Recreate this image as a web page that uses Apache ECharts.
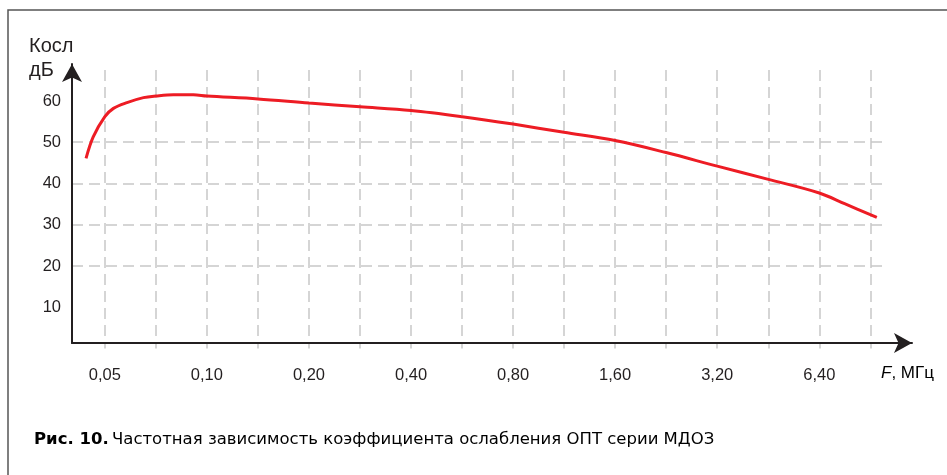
<!DOCTYPE html>
<html>
<head>
<meta charset="utf-8">
<script src="https://cdn.jsdelivr.net/npm/echarts@6/dist/echarts.min.js"></script>
<style>
html,body{margin:0;padding:0;background:#fff;}
#chart{width:947px;height:475px;}
</style>
</head>
<body>
<div id="chart"></div>
<script>
// Frequency, MHz (log scale, octave grid)
var freqMHz = [0.044, 0.0462, 0.05, 0.053, 0.0581, 0.065, 0.0708, 0.0796, 0.0912, 0.10,
               0.1414, 0.20, 0.283, 0.40, 0.566, 0.80, 1.13, 1.60, 2.26, 3.20, 4.53, 6.40, 7.6, 9.46];
// Attenuation K_osl, dB
var attenuationDb = [46.1, 51.3, 56.2, 58.2, 59.6, 60.8, 61.2, 61.5, 61.5, 61.2,
                     60.5, 59.5, 58.6, 57.7, 56.2, 54.4, 52.4, 50.4, 47.5, 44.2, 41.0, 37.7, 35.1, 31.8];
// X tick labels and their values
var xLabelValues = [0.05, 0.10, 0.20, 0.40, 0.80, 1.60, 3.20, 6.40];
var xLabels = ['0,05', '0,10', '0,20', '0,40', '0,80', '1,60', '3,20', '6,40'];
// Grid (half-octave) line positions
var xGridValues = [0.05, 0.0707, 0.10, 0.1414, 0.20, 0.2828, 0.40, 0.5657, 0.80, 1.1314,
                   1.60, 2.2627, 3.20, 4.5255, 6.40, 9.051];
// Y ticks
var yTicks = [10, 20, 30, 40, 50, 60];
var yTitle = ['Косл', 'дБ'];
var xTitle = 'F, МГц';
var captionBold = 'Рис. 10.';
var captionText = 'Частотная зависимость коэффициента ослабления ОПТ серии МДОЗ';

var seriesData = freqMHz.map(function (f, i) { return [f, attenuationDb[i]]; });

var chart = echarts.init(document.getElementById('chart'), null, {renderer: 'canvas'});
var textColor = '#231f20';
var gridLine = {show: true, lineStyle: {color: '#c8c8c8', width: 1.5, type: [11, 6]}};

chart.setOption({
  animation: false,
  backgroundColor: '#ffffff',
  grid: [
    {left: 72, right: 62, top: 70, bottom: 126.4, containLabel: false},
    {left: 72, right: 35, top: 64, bottom: 132, containLabel: false}
  ],
  xAxis: [
    {
      type: 'log', logBase: 2, gridIndex: 0, min: 0.04, max: 10,
      axisLine: {show: false},
      axisTick: {show: false, customValues: xGridValues},
      axisLabel: {
        show: true, customValues: xLabelValues, margin: 27, verticalAlign: 'middle',
        fontFamily: 'Liberation Sans', fontSize: 16.5, color: textColor,
        formatter: function (v) {
          for (var i = 0; i < xLabelValues.length; i++) {
            if (Math.abs(v - xLabelValues[i]) / xLabelValues[i] < 1e-3) return xLabels[i];
          }
          return '';
        }
      },
      splitLine: gridLine
    },
    {
      type: 'value', gridIndex: 1, min: 0, max: 1,
      axisLine: {show: true, onZero: false, symbol: ['none', 'arrow'], symbolSize: [15, 18],
                 lineStyle: {color: textColor, width: 2}},
      axisTick: {show: false}, axisLabel: {show: false}, splitLine: {show: false}
    }
  ],
  yAxis: [
    {
      type: 'value', gridIndex: 0, min: 0, max: 67.5,
      axisLine: {show: false},
      axisTick: {show: false, customValues: yTicks},
      axisLabel: {show: true, customValues: yTicks, margin: 11,
                  fontFamily: 'Liberation Sans', fontSize: 16.5, color: textColor},
      splitLine: {show: true, showMinLine: false, showMaxLine: false,
                  lineStyle: {color: '#c8c8c8', width: 1.5, type: [11, 6]}}
    },
    {
      type: 'value', gridIndex: 1, min: 0, max: 1,
      axisLine: {show: true, onZero: false, symbol: ['none', 'arrow'], symbolSize: [15, 18],
                 lineStyle: {color: textColor, width: 2}},
      axisTick: {show: false}, axisLabel: {show: false}, splitLine: {show: false}
    }
  ],
  series: [{
    type: 'line', xAxisIndex: 0, yAxisIndex: 0,
    data: seriesData, smooth: 0.35, showSymbol: false, symbol: 'none',
    lineStyle: {color: '#ed1c24', width: 3}, z: 5
  }],
  graphic: [
    {type: 'rect', shape: {x: 8, y: 10, width: 1200, height: 1000},
     style: {fill: 'none', stroke: '#555555', lineWidth: 1.5}, silent: true},
    {type: 'text', x: 29, y: 46, style: {text: yTitle[0], font: '20px "Liberation Sans"', fill: textColor, verticalAlign: 'middle'}},
    {type: 'text', x: 29, y: 70, style: {text: yTitle[1], font: '20px "Liberation Sans"', fill: textColor, verticalAlign: 'middle'}},
    {type: 'text', x: 881, y: 373, style: {
      text: '{i|F}{n|' + xTitle.slice(1) + '}', verticalAlign: 'middle',
      rich: {
        i: {fontFamily: 'Liberation Sans', fontStyle: 'italic', fontSize: 17, color: textColor},
        n: {fontFamily: 'Liberation Sans', fontSize: 17, color: textColor}
      }}},
    {type: 'text', x: 34, y: 440, style: {
      text: '{b|' + captionBold + '} {r|' + captionText + '}', verticalAlign: 'middle',
      rich: {
        b: {fontFamily: 'DejaVu Sans', fontWeight: 'bold', fontSize: 16.5, color: textColor},
        r: {fontFamily: 'DejaVu Sans', fontSize: 16.5, color: textColor}
      }}}
  ]
});
</script>
</body>
</html>
